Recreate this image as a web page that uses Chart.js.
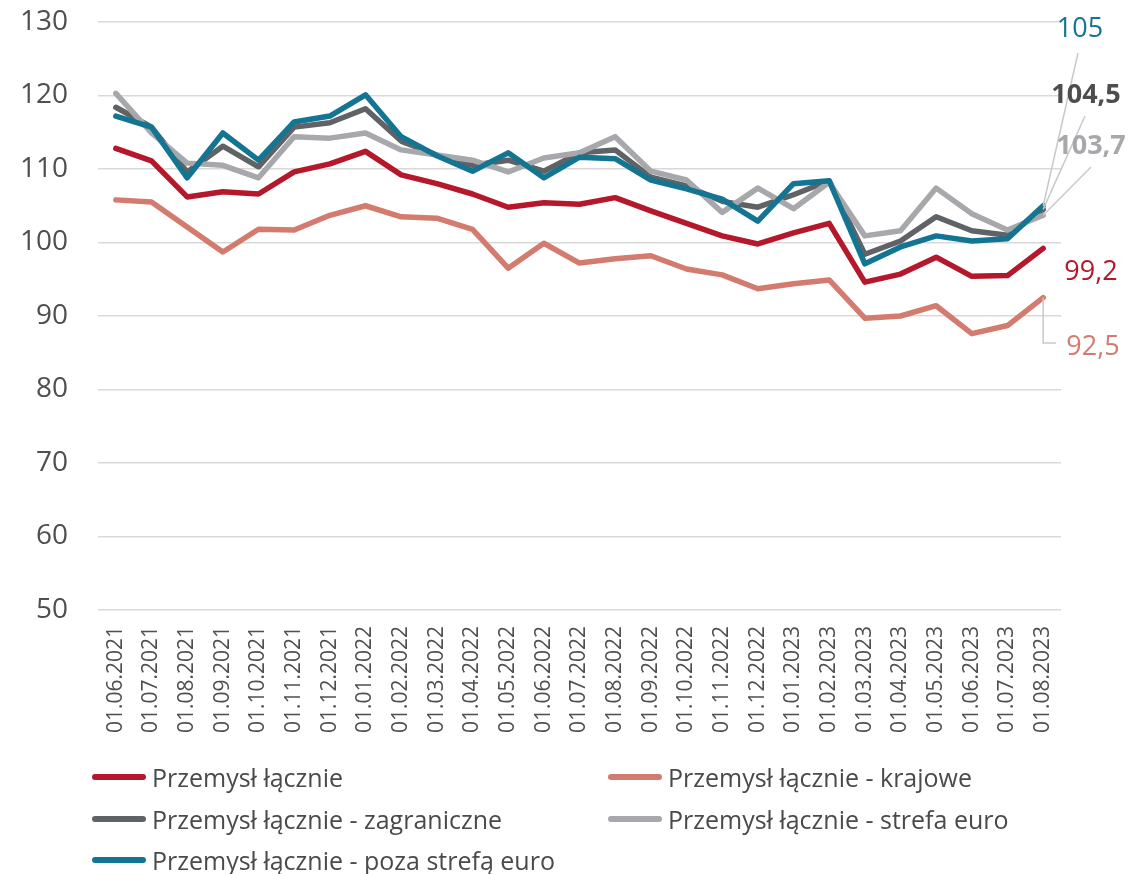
<!DOCTYPE html>
<html lang="pl">
<head>
<meta charset="utf-8">
<title>Przemysł łącznie</title>
<script src="https://cdn.jsdelivr.net/npm/chart.js@4.4.0/dist/chart.umd.min.js"></script>
<style>
  html, body { margin: 0; padding: 0; background: #fff; }
  #wrap { position: relative; width: 1129px; height: 874px; }
  #legend { position: absolute; left: 0; top: 0; width: 1129px; height: 874px; pointer-events: none;
            font-family: 'Open Sans', sans-serif; font-size: 25px; color: #4a4a4a; }
  .item { position: absolute; display: flex; align-items: center; white-space: nowrap; transform: translateY(-50%); }
  .swatch { width: 54px; height: 6px; border-radius: 3px; margin-right: 6px; }
</style>
</head>
<body>
<div id="wrap">
  <canvas id="chart" width="1129" height="874"></canvas>
  <div id="legend"></div>
</div>
<script>
const labels = [
  '01.06.2021', '01.07.2021', '01.08.2021', '01.09.2021', '01.10.2021', '01.11.2021', '01.12.2021',
  '01.01.2022', '01.02.2022', '01.03.2022', '01.04.2022', '01.05.2022', '01.06.2022', '01.07.2022',
  '01.08.2022', '01.09.2022', '01.10.2022', '01.11.2022', '01.12.2022', '01.01.2023', '01.02.2023',
  '01.03.2023', '01.04.2023', '01.05.2023', '01.06.2023', '01.07.2023', '01.08.2023'
];

const totalValues = [112.8, 111.1, 106.2, 106.9, 106.6, 109.6, 110.7, 112.4, 109.2, 108.0, 106.6, 104.8, 105.4, 105.2,
  106.1, 104.3, 102.6, 100.9, 99.8, 101.3, 102.6, 94.6, 95.7, 98.0, 95.4, 95.5, 99.2];
const domesticValues = [105.8, 105.5, 102.1, 98.7, 101.8, 101.7, 103.7, 105.0, 103.5, 103.3, 101.8, 96.5, 99.9, 97.2,
  97.8, 98.2, 96.4, 95.6, 93.7, 94.4, 94.9, 89.7, 90.0, 91.4, 87.6, 88.7, 92.5];
const foreignValues = [118.4, 115.7, 109.6, 113.1, 110.3, 115.7, 116.3, 118.2, 113.8, 111.9, 110.5, 111.2, 109.7, 112.2,
  112.6, 108.9, 107.7, 105.6, 104.8, 106.5, 108.4, 98.4, 100.2, 103.5, 101.6, 101.0, 104.5];
const euroValues = [120.3, 114.9, 110.8, 110.5, 108.8, 114.4, 114.2, 114.9, 112.6, 111.9, 111.2, 109.6, 111.5, 112.2,
  114.4, 109.7, 108.5, 104.1, 107.4, 104.6, 108.2, 100.9, 101.6, 107.4, 103.9, 101.7, 103.7];
const nonEuroValues = [117.2, 115.7, 108.8, 114.9, 111.2, 116.4, 117.2, 120.1, 114.4, 111.8, 109.7, 112.2, 108.8, 111.6,
  111.4, 108.5, 107.3, 105.9, 102.9, 108.0, 108.4, 97.1, 99.4, 100.9, 100.2, 100.5, 105.0];

const seriesNames = [
  'Przemysł łącznie',
  'Przemysł łącznie - krajowe',
  'Przemysł łącznie - zagraniczne',
  'Przemysł łącznie - strefa euro',
  'Przemysł łącznie - poza strefą euro'
];
const seriesValues = [totalValues, domesticValues, foreignValues, euroValues, nonEuroValues];
const seriesColors = ['#b5172b', '#d47b6f', '#5f6366', '#a6a8ab', '#147592'];
const drawOrder = [5, 4, 3, 2, 1];   // lower = on top, like excel

const FONT = "'Open Sans', sans-serif";
const TEXT = '#4f4f4f';

// end-of-line value labels with leader lines
const endLabels = [
  { ds: 4, x: 1080, y: 29, bold: false, color: '#147592', leader: [[1078, 53]] },
  { ds: 2, x: 1086, y: 95, bold: true, color: '#4d4d4d', leader: [[1085, 116]] },
  { ds: 3, x: 1091, y: 146, bold: true, color: '#a6a8ab', leader: [[1091, 167]] },
  { ds: 0, x: 1091, y: 272, bold: false, color: '#b5172b', leader: null },
  { ds: 1, x: 1093, y: 347, bold: false, color: '#d47b6f', leader: 'elbow' }
];

const endLabelPlugin = {
  id: 'endLabels',
  afterDatasetsDraw(chart) {
    const ctx = chart.ctx;
    ctx.save();
    endLabels.forEach(l => {
      const meta = chart.getDatasetMeta(l.ds);
      const pt = meta.data[meta.data.length - 1];
      const vals = seriesValues[l.ds];
      const txt = vals[vals.length - 1].toString().replace('.', ',');
      ctx.strokeStyle = '#c9c9c9';
      ctx.lineWidth = 1.5;
      if (l.leader === 'elbow') {
        ctx.beginPath();
        ctx.moveTo(pt.x, pt.y);
        ctx.lineTo(pt.x, l.y - 4);
        ctx.lineTo(l.x - 37, l.y - 4);
        ctx.stroke();
      } else if (l.leader) {
        ctx.beginPath();
        ctx.moveTo(pt.x, pt.y);
        l.leader.forEach(p => ctx.lineTo(p[0], p[1]));
        ctx.stroke();
      }
      ctx.font = (l.bold ? 'bold ' : '') + '27px ' + FONT;
      ctx.fillStyle = l.color;
      ctx.textAlign = 'center';
      ctx.textBaseline = 'middle';
      ctx.fillText(txt, l.x, l.y);
    });
    ctx.restore();
  }
};

const datasets = seriesNames.map((name, i) => ({
  label: name,
  data: seriesValues[i],
  borderColor: seriesColors[i],
  backgroundColor: seriesColors[i],
  borderWidth: 5.5,
  pointRadius: 0,
  tension: 0,
  borderJoinStyle: 'round',
  borderCapStyle: 'round',
  order: drawOrder[i]
}));

new Chart(document.getElementById('chart').getContext('2d'), {
  type: 'line',
  data: { labels: labels, datasets: datasets },
  options: {
    responsive: false,
    animation: false,
    layout: { padding: { top: 0, right: 68, bottom: 124, left: 0 } },
    plugins: {
      legend: { display: false },
      tooltip: { enabled: false }
    },
    scales: {
      x: {
        offset: true,
        grid: { display: false },
        border: { display: false },
        ticks: {
          autoSkip: false,
          minRotation: 90,
          maxRotation: 90,
          padding: 8,
          color: TEXT,
          font: { family: FONT, size: 21 }
        },
        afterFit(scale) { scale.height = 140; }
      },
      y: {
        min: 50,
        max: 130,
        border: { display: false },
        grid: { color: '#d9d9d9', lineWidth: 1.5, drawTicks: false },
        ticks: {
          stepSize: 10,
          padding: 30,
          color: TEXT,
          font: { family: FONT, size: 28 }
        },
        afterFit(scale) {
          scale.width = 98;
          // tick padding would otherwise push the plot top down
          scale.paddingTop = 22;
          scale.paddingBottom = 0;
        }
      }
    }
  },
  plugins: [endLabelPlugin]
});

// legend, two columns like the original
const legendCols = [92, 608];
const legendRows = [777, 819, 860];
const legendEl = document.getElementById('legend');
seriesNames.forEach((name, i) => {
  const item = document.createElement('div');
  item.className = 'item';
  item.style.left = legendCols[i % 2] + 'px';
  item.style.top = legendRows[Math.floor(i / 2)] + 'px';
  item.innerHTML = '<span class="swatch" style="background:' + seriesColors[i] + '"></span>' + name;
  legendEl.appendChild(item);
});
</script>
</body>
</html>
